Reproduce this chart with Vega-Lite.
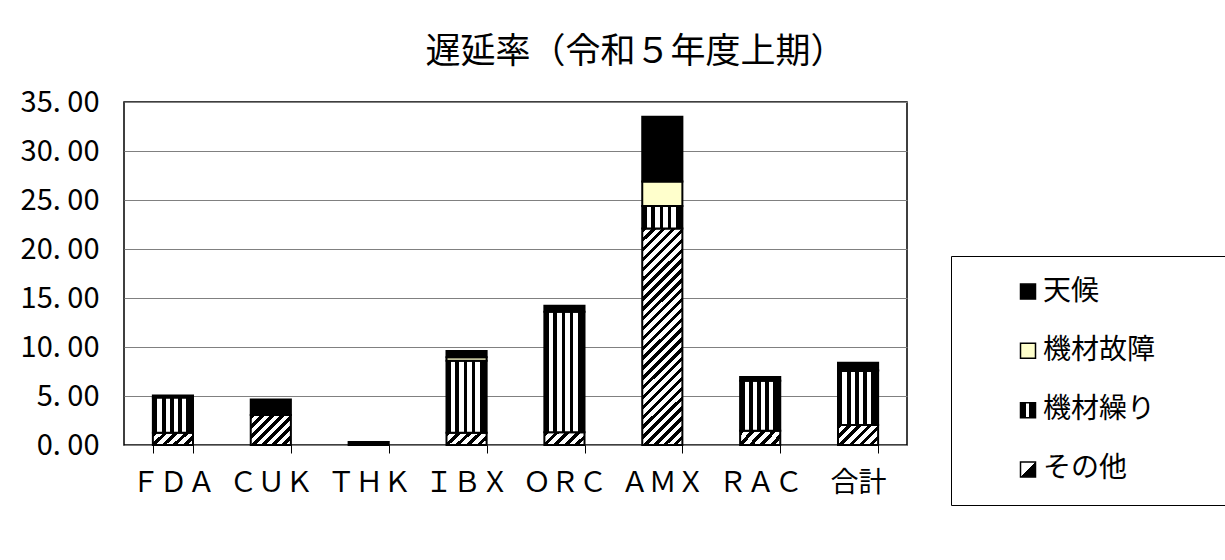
{
  "$schema": "https://vega.github.io/schema/vega-lite/v6.json",
  "padding": {"left": 19, "top": 34, "right": 0, "bottom": 0},
  "background": "white",
  "config": {"font": "Noto Sans CJK JP"},
  "spacing": 42,
  "hconcat": [
    {
      "width": 783,
      "height": 343,
      "view": {"stroke": "black", "strokeWidth": 1.5},
      "title": {
        "text": "遅延率（令和５年度上期）",
        "fontSize": 35,
        "fontWeight": "normal",
        "font": "Noto Sans CJK JP",
        "color": "black",
        "anchor": "middle",
        "dx": 120,
        "offset": 18
      },
      "data": {
        "values": [
          {"name": "ＦＤＡ", "series": "その他", "value": 1.25, "o": 1},
          {"name": "ＦＤＡ", "series": "機材繰り", "value": 3.6, "o": 2},
          {"name": "ＦＤＡ", "series": "天候", "value": 0.2, "o": 4},
          {"name": "ＣＵＫ", "series": "その他", "value": 3.05, "o": 1},
          {"name": "ＣＵＫ", "series": "天候", "value": 1.6, "o": 4},
          {"name": "ＴＨＫ", "series": "天候", "value": 0.3, "o": 4},
          {"name": "ＩＢＸ", "series": "その他", "value": 1.25, "o": 1},
          {"name": "ＩＢＸ", "series": "機材繰り", "value": 7.35, "o": 2},
          {"name": "ＩＢＸ", "series": "機材故障", "value": 0.35, "o": 3},
          {"name": "ＩＢＸ", "series": "天候", "value": 0.65, "o": 4},
          {"name": "ＯＲＣ", "series": "その他", "value": 1.3, "o": 1},
          {"name": "ＯＲＣ", "series": "機材繰り", "value": 12.3, "o": 2},
          {"name": "ＯＲＣ", "series": "天候", "value": 0.6, "o": 4},
          {"name": "ＡＭＸ", "series": "その他", "value": 22.1, "o": 1},
          {"name": "ＡＭＸ", "series": "機材繰り", "value": 2.3, "o": 2},
          {"name": "ＡＭＸ", "series": "機材故障", "value": 2.5, "o": 3},
          {"name": "ＡＭＸ", "series": "天候", "value": 6.6, "o": 4},
          {"name": "ＲＡＣ", "series": "その他", "value": 1.45, "o": 1},
          {"name": "ＲＡＣ", "series": "機材繰り", "value": 5.1, "o": 2},
          {"name": "ＲＡＣ", "series": "天候", "value": 0.4, "o": 4},
          {"name": "合計", "series": "その他", "value": 2.05, "o": 1},
          {"name": "合計", "series": "機材繰り", "value": 5.5, "o": 2},
          {"name": "合計", "series": "機材故障", "value": 0.1, "o": 3},
          {"name": "合計", "series": "天候", "value": 0.75, "o": 4}
        ]
      },
      "mark": {"type": "bar", "stroke": "black", "strokeWidth": 2},
      "encoding": {
        "x": {
          "field": "name",
          "type": "nominal",
          "sort": ["ＦＤＡ", "ＣＵＫ", "ＴＨＫ", "ＩＢＸ", "ＯＲＣ", "ＡＭＸ", "ＲＡＣ", "合計"],
          "scale": {"paddingInner": 0.59, "paddingOuter": 0.295},
          "axis": {
            "title": null,
            "labelAngle": 0,
            "labelFontSize": 28,
            "labelColor": "black",
            "labelFont": "Noto Sans CJK JP",
            "labelPadding": 16,
            "tickBand": "extent",
            "tickSize": 8,
            "tickColor": "black",
            "tickWidth": 1,
            "domain": false,
            "grid": false
          }
        },
        "y": {
          "field": "value",
          "type": "quantitative",
          "stack": "zero",
          "scale": {"domain": [0, 35], "nice": false},
          "axis": {
            "title": null,
            "values": [0, 5, 10, 15, 20, 25, 30, 35],
            "labelExpr": "replace(format(datum.value, '.2f'), '.', '. ')",
            "labelFontSize": 29,
            "labelColor": "black",
            "labelFont": "Noto Sans CJK JP",
            "labelPadding": 25,
            "ticks": false,
            "domain": false,
            "grid": true,
            "gridColor": "#808080",
            "gridWidth": 1
          }
        },
        "order": {"field": "o", "type": "quantitative", "sort": "ascending"},
        "fill": {
          "value": "black",
          "condition": [
            {"test": "datum.series === '機材故障'", "value": "#FFFFCC"},
            {"test": "datum.series === '機材繰り'", "value": {"gradient": "linear", "x1": 0, "y1": 0, "x2": 1, "y2": 0, "stops": [
              {"offset": 0, "color": "black"}, {"offset": 0.11, "color": "black"},
              {"offset": 0.11, "color": "white"}, {"offset": 0.22, "color": "white"},
              {"offset": 0.22, "color": "black"}, {"offset": 0.32, "color": "black"},
              {"offset": 0.32, "color": "white"}, {"offset": 0.43, "color": "white"},
              {"offset": 0.43, "color": "black"}, {"offset": 0.52, "color": "black"},
              {"offset": 0.52, "color": "white"}, {"offset": 0.63, "color": "white"},
              {"offset": 0.63, "color": "black"}, {"offset": 0.72, "color": "black"},
              {"offset": 0.72, "color": "white"}, {"offset": 0.83, "color": "white"},
              {"offset": 0.83, "color": "black"}, {"offset": 1, "color": "black"}]}},
            {"test": "datum.series === 'その他' && datum.name === 'ＡＭＸ'", "value": {"gradient": "linear", "x1": 0, "y1": 0, "x2": 0.2111, "y2": 1.1453, "stops": [
              {"offset": 0, "color": "black"}, {"offset": 0.0173, "color": "black"}, {"offset": 0.0173, "color": "white"}, {"offset": 0.0385, "color": "white"},
              {"offset": 0.0385, "color": "black"}, {"offset": 0.0558, "color": "black"}, {"offset": 0.0558, "color": "white"}, {"offset": 0.0769, "color": "white"},
              {"offset": 0.0769, "color": "black"}, {"offset": 0.0942, "color": "black"}, {"offset": 0.0942, "color": "white"}, {"offset": 0.1154, "color": "white"},
              {"offset": 0.1154, "color": "black"}, {"offset": 0.1327, "color": "black"}, {"offset": 0.1327, "color": "white"}, {"offset": 0.1538, "color": "white"},
              {"offset": 0.1538, "color": "black"}, {"offset": 0.1711, "color": "black"}, {"offset": 0.1711, "color": "white"}, {"offset": 0.1923, "color": "white"},
              {"offset": 0.1923, "color": "black"}, {"offset": 0.2096, "color": "black"}, {"offset": 0.2096, "color": "white"}, {"offset": 0.2308, "color": "white"},
              {"offset": 0.2308, "color": "black"}, {"offset": 0.2481, "color": "black"}, {"offset": 0.2481, "color": "white"}, {"offset": 0.2692, "color": "white"},
              {"offset": 0.2692, "color": "black"}, {"offset": 0.2865, "color": "black"}, {"offset": 0.2865, "color": "white"}, {"offset": 0.3077, "color": "white"},
              {"offset": 0.3077, "color": "black"}, {"offset": 0.325, "color": "black"}, {"offset": 0.325, "color": "white"}, {"offset": 0.3462, "color": "white"},
              {"offset": 0.3462, "color": "black"}, {"offset": 0.3635, "color": "black"}, {"offset": 0.3635, "color": "white"}, {"offset": 0.3846, "color": "white"},
              {"offset": 0.3846, "color": "black"}, {"offset": 0.4019, "color": "black"}, {"offset": 0.4019, "color": "white"}, {"offset": 0.4231, "color": "white"},
              {"offset": 0.4231, "color": "black"}, {"offset": 0.4404, "color": "black"}, {"offset": 0.4404, "color": "white"}, {"offset": 0.4615, "color": "white"},
              {"offset": 0.4615, "color": "black"}, {"offset": 0.4788, "color": "black"}, {"offset": 0.4788, "color": "white"}, {"offset": 0.5, "color": "white"},
              {"offset": 0.5, "color": "black"}, {"offset": 0.5173, "color": "black"}, {"offset": 0.5173, "color": "white"}, {"offset": 0.5385, "color": "white"},
              {"offset": 0.5385, "color": "black"}, {"offset": 0.5558, "color": "black"}, {"offset": 0.5558, "color": "white"}, {"offset": 0.5769, "color": "white"},
              {"offset": 0.5769, "color": "black"}, {"offset": 0.5942, "color": "black"}, {"offset": 0.5942, "color": "white"}, {"offset": 0.6154, "color": "white"},
              {"offset": 0.6154, "color": "black"}, {"offset": 0.6327, "color": "black"}, {"offset": 0.6327, "color": "white"}, {"offset": 0.6538, "color": "white"},
              {"offset": 0.6538, "color": "black"}, {"offset": 0.6711, "color": "black"}, {"offset": 0.6711, "color": "white"}, {"offset": 0.6923, "color": "white"},
              {"offset": 0.6923, "color": "black"}, {"offset": 0.7096, "color": "black"}, {"offset": 0.7096, "color": "white"}, {"offset": 0.7308, "color": "white"},
              {"offset": 0.7308, "color": "black"}, {"offset": 0.7481, "color": "black"}, {"offset": 0.7481, "color": "white"}, {"offset": 0.7692, "color": "white"},
              {"offset": 0.7692, "color": "black"}, {"offset": 0.7865, "color": "black"}, {"offset": 0.7865, "color": "white"}, {"offset": 0.8077, "color": "white"},
              {"offset": 0.8077, "color": "black"}, {"offset": 0.825, "color": "black"}, {"offset": 0.825, "color": "white"}, {"offset": 0.8462, "color": "white"},
              {"offset": 0.8462, "color": "black"}, {"offset": 0.8635, "color": "black"}, {"offset": 0.8635, "color": "white"}, {"offset": 0.8846, "color": "white"},
              {"offset": 0.8846, "color": "black"}, {"offset": 0.9019, "color": "black"}, {"offset": 0.9019, "color": "white"}, {"offset": 0.9231, "color": "white"},
              {"offset": 0.9231, "color": "black"}, {"offset": 0.9404, "color": "black"}, {"offset": 0.9404, "color": "white"}, {"offset": 0.9615, "color": "white"},
              {"offset": 0.9615, "color": "black"}, {"offset": 0.9788, "color": "black"}, {"offset": 0.9788, "color": "white"}, {"offset": 1, "color": "white"}]}},
            {"test": "datum.series === 'その他' && datum.name === 'ＣＵＫ'", "value": {"gradient": "linear", "x1": 0, "y1": 0, "x2": 1.12, "y2": 0.84, "stops": [
              {"offset": 0, "color": "black"}, {"offset": 0.0643, "color": "black"}, {"offset": 0.0643, "color": "white"}, {"offset": 0.1429, "color": "white"},
              {"offset": 0.1429, "color": "black"}, {"offset": 0.2071, "color": "black"}, {"offset": 0.2071, "color": "white"}, {"offset": 0.2857, "color": "white"},
              {"offset": 0.2857, "color": "black"}, {"offset": 0.35, "color": "black"}, {"offset": 0.35, "color": "white"}, {"offset": 0.4286, "color": "white"},
              {"offset": 0.4286, "color": "black"}, {"offset": 0.4929, "color": "black"}, {"offset": 0.4929, "color": "white"}, {"offset": 0.5714, "color": "white"},
              {"offset": 0.5714, "color": "black"}, {"offset": 0.6357, "color": "black"}, {"offset": 0.6357, "color": "white"}, {"offset": 0.7143, "color": "white"},
              {"offset": 0.7143, "color": "black"}, {"offset": 0.7786, "color": "black"}, {"offset": 0.7786, "color": "white"}, {"offset": 0.8571, "color": "white"},
              {"offset": 0.8571, "color": "black"}, {"offset": 0.9214, "color": "black"}, {"offset": 0.9214, "color": "white"}, {"offset": 1, "color": "white"}]}},
            {"test": "datum.series === 'その他' && datum.name === '合計'", "value": {"gradient": "linear", "x1": 0, "y1": 0, "x2": 1.2, "y2": 0.6, "stops": [
              {"offset": 0, "color": "black"}, {"offset": 0.075, "color": "black"}, {"offset": 0.075, "color": "white"}, {"offset": 0.1667, "color": "white"},
              {"offset": 0.1667, "color": "black"}, {"offset": 0.2417, "color": "black"}, {"offset": 0.2417, "color": "white"}, {"offset": 0.3333, "color": "white"},
              {"offset": 0.3333, "color": "black"}, {"offset": 0.4083, "color": "black"}, {"offset": 0.4083, "color": "white"}, {"offset": 0.5, "color": "white"},
              {"offset": 0.5, "color": "black"}, {"offset": 0.575, "color": "black"}, {"offset": 0.575, "color": "white"}, {"offset": 0.6667, "color": "white"},
              {"offset": 0.6667, "color": "black"}, {"offset": 0.7417, "color": "black"}, {"offset": 0.7417, "color": "white"}, {"offset": 0.8333, "color": "white"},
              {"offset": 0.8333, "color": "black"}, {"offset": 0.9083, "color": "black"}, {"offset": 0.9083, "color": "white"}, {"offset": 1, "color": "white"}]}},
            {"test": "datum.series === 'その他'", "value": {"gradient": "linear", "x1": 0, "y1": 0, "x2": 1.198, "y2": 0.389, "stops": [
              {"offset": 0, "color": "black"}, {"offset": 0.09, "color": "black"}, {"offset": 0.09, "color": "white"}, {"offset": 0.2, "color": "white"},
              {"offset": 0.2, "color": "black"}, {"offset": 0.29, "color": "black"}, {"offset": 0.29, "color": "white"}, {"offset": 0.4, "color": "white"},
              {"offset": 0.4, "color": "black"}, {"offset": 0.49, "color": "black"}, {"offset": 0.49, "color": "white"}, {"offset": 0.6, "color": "white"},
              {"offset": 0.6, "color": "black"}, {"offset": 0.69, "color": "black"}, {"offset": 0.69, "color": "white"}, {"offset": 0.8, "color": "white"},
              {"offset": 0.8, "color": "black"}, {"offset": 0.89, "color": "black"}, {"offset": 0.89, "color": "white"}, {"offset": 1, "color": "white"}]}}
          ]
        }
      }
    },
    {
      "spacing": 0,
      "vconcat": [
        {
          "width": 280,
          "height": 153,
          "view": {"stroke": null},
          "data": {"values": []},
          "mark": "point",
          "encoding": {}
        },
        {
          "width": 280,
          "height": 249,
          "view": {"stroke": "black", "strokeWidth": 1, "fill": "white"},
          "data": {
            "values": [
              {"series": "天候"},
              {"series": "機材故障"},
              {"series": "機材繰り"},
              {"series": "その他"}
            ]
          },
          "encoding": {
            "y": {
              "field": "series",
              "type": "nominal",
              "scale": {"type": "point", "padding": 0.6, "domain": ["天候", "機材故障", "機材繰り", "その他"]},
              "axis": null
            }
          },
          "layer": [
            {
              "mark": {"type": "square", "size": 225, "filled": true, "stroke": "black", "strokeWidth": 1.5, "opacity": 1, "xOffset": -63},
              "encoding": {
                "fill": {
                  "value": "black",
                  "condition": [
                    {"test": "datum.series === '機材故障'", "value": "#FFFFCC"},
                    {"test": "datum.series === '機材繰り'", "value": {"gradient": "linear", "x1": 0, "y1": 0, "x2": 1, "y2": 0, "stops": [
                      {"offset": 0, "color": "black"}, {"offset": 0.35, "color": "black"},
                      {"offset": 0.35, "color": "white"}, {"offset": 0.6, "color": "white"},
                      {"offset": 0.6, "color": "black"}, {"offset": 1, "color": "black"}]}},
                    {"test": "datum.series === 'その他'", "value": {"gradient": "linear", "x1": 0, "y1": 0, "x2": 1, "y2": 1, "stops": [
                      {"offset": 0, "color": "white"}, {"offset": 0.5, "color": "white"},
                      {"offset": 0.5, "color": "black"}, {"offset": 1, "color": "black"}]}}
                  ]
                }
              }
            },
            {
              "mark": {"type": "text", "align": "left", "baseline": "middle", "fontSize": 28, "font": "Noto Sans CJK JP", "color": "black", "dx": -48},
              "encoding": {"text": {"field": "series", "type": "nominal"}}
            }
          ]
        }
      ]
    }
  ]
}
